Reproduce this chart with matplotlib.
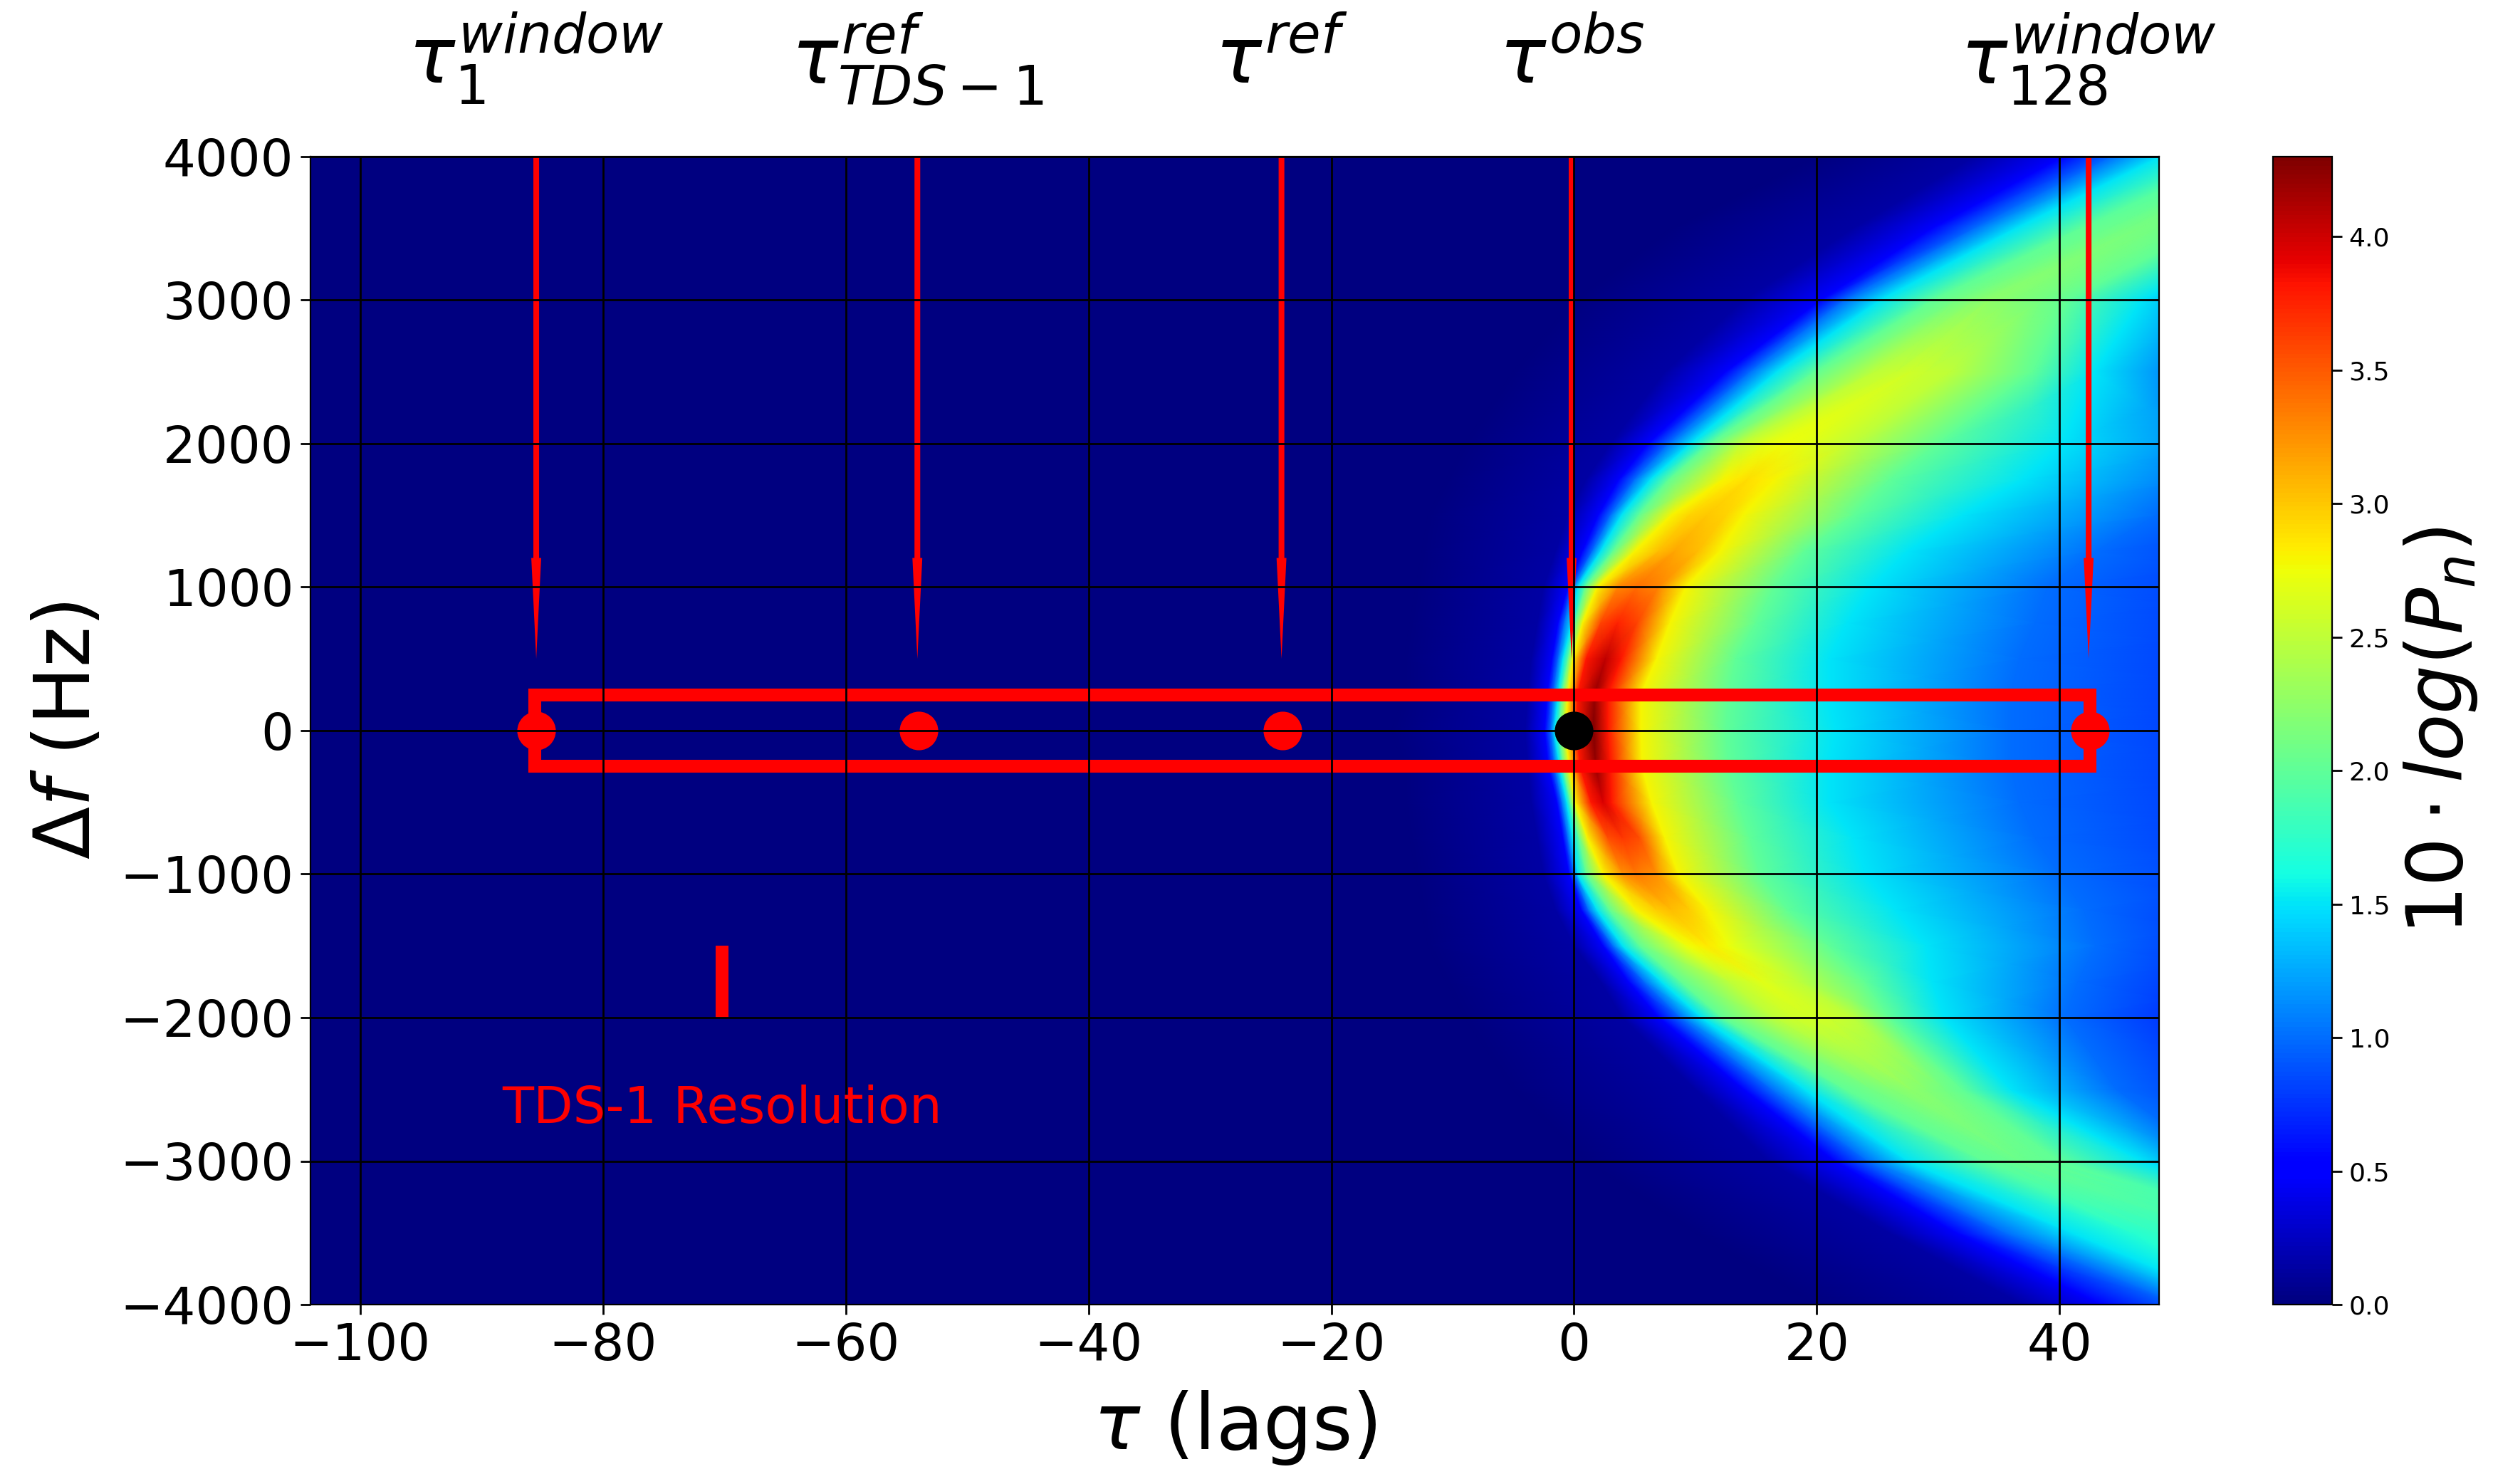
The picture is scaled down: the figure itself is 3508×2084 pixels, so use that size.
import matplotlib
matplotlib.use('Agg')
import matplotlib.pyplot as plt
import numpy as np

# delay-doppler map, one row per doppler value.
# each row is a walk across the parabola band: far left, rising edge, ridge, falling side
df_rows = [4000, 3500, 3000, 2500, 2000, 1750, 1500, 1250, 1000, 750, 500, 250, 0,
           -250, -500, -750, -1000, -1250, -1500, -1750, -2000, -2500, -3000, -3500, -4000]

tau_rows = [
    [20, 33, 40.3, 44.3, 48.3, 54, 56, 57, 58, 60, 62, 64, 68, 75, 85],
    [8, 23, 29.5, 33, 36.4, 41.8, 44, 45.5, 46.5, 48, 50, 52, 58, 65, 80],
    [0, 14, 20.3, 22.3, 25.2, 29.5, 31.5, 33, 34.2, 36, 38.5, 40.7, 46.8, 54.7, 70],
    [-5, 7.5, 12.5, 14.5, 16.7, 19.8, 24.8, 26.5, 27.7, 29, 31, 37.8, 42.9, 51, 65],
    [-9, 3, 6.1, 7.8, 9.6, 11.2, 13.7, 15.8, 17.3, 19, 23, 30, 40.3, 55, 70],
    [-10.5, 1, 3.7, 5, 6.3, 7.8, 12.3, 13.3, 14.3, 15.4, 16.5, 26, 37, 52, 68],
    [-12, -0.5, 2, 3, 3.9, 5.3, 8, 9.5, 11, 12.5, 13.9, 23, 32, 48, 65],
    [-12.5, -1.5, 0.7, 1.5, 2.2, 3.2, 5, 7, 8.3, 10.2, 12, 19, 27.5, 43, 62],
    [-13, -2.5, -0.5, -0.1, 0.3, 0.9, 1.9, 3.6, 5.2, 7, 9.2, 16.5, 24.5, 39, 60],
    [-13.5, -3, -1.3, -0.8, -0.2, 0.1, 0.7, 2.2, 3.6, 5.2, 7.9, 15, 22.5, 38, 60],
    [-14, -3.5, -1.8, -1.3, -0.9, -0.5, -0.1, 1, 2.6, 3.9, 6.8, 13.3, 21, 36.7, 60],
    [-14, -3.8, -2.2, -1.7, -1.3, -1, -0.5, 0.3, 1.7, 2.8, 5.5, 12.7, 21, 36, 60],
    [-15, -4, -2.4, -1.9, -1.6, -1.2, -0.7, 0.2, 1.6, 2.8, 5.5, 12.5, 21.5, 36, 60],
    [-14, -3.8, -2.1, -1.6, -1.2, -0.9, -0.4, 0.5, 1.8, 3, 5.6, 12.7, 21, 36, 60],
    [-14, -3.5, -1.4, -1, -0.6, -0.3, 0.1, 1.4, 2.4, 3.1, 6.4, 13.5, 21, 36.7, 60],
    [-13.5, -3, -0.9, -0.5, -0.1, 0.4, 1.1, 2.8, 4, 5.4, 7.5, 14.5, 23, 38, 60],
    [-13, -2.5, -0.4, 0, 0.3, 1, 2.4, 4, 5.1, 6.8, 8.6, 15.3, 24, 40, 62],
    [-12.5, -1.5, 0.6, 1.2, 1.9, 2.9, 5.1, 6.8, 8, 9.5, 11, 17.6, 26.5, 42, 60],
    [-12, 0, 2.4, 3.2, 4, 5.4, 9.3, 10.2, 11, 11.8, 12.7, 21, 29, 43, 60],
    [-10.5, 2.2, 4.5, 5.8, 7.2, 8.8, 12.8, 14.5, 15.5, 16.5, 18.5, 24, 29.5, 41.5, 58],
    [-9, 4, 7, 8.8, 10.5, 12.2, 16.5, 18, 19.5, 21, 23, 26, 30.5, 40.5, 55],
    [-5, 10, 14, 16.3, 19, 22.3, 24.5, 26.2, 27.7, 29, 30.5, 32, 36, 44.7, 60],
    [1, 16, 21.5, 24.2, 27.5, 33.8, 35, 36, 36.7, 37.5, 38.8, 40, 46.8, 53, 68],
    [10, 26, 31.5, 35.5, 41, 46, 48, 50, 53, 56, 58, 60, 66, 72, 85],
    [20, 37, 43.5, 50, 55, 57, 58, 59, 60, 61, 62, 63, 68, 75, 90],
]

power_rows = [
    [0, .15, .5, 1, 1.5, 1.9, 1.95, 2, 2.05, 2, 1.95, 1.9, 1.5, 1, .6],
    [0, .15, .5, 1, 1.5, 2, 2.05, 2.1, 2.12, 2.1, 2.05, 2, 1.5, 1, .6],
    [0, .15, .5, 1, 1.5, 2, 2.1, 2.2, 2.25, 2.2, 2.1, 2, 1.5, 1, .6],
    [0, .15, .5, 1, 1.5, 2, 2.5, 2.55, 2.58, 2.55, 2.5, 2, 1.5, 1, .6],
    [0, .15, .5, 1, 1.5, 2, 2.5, 2.7, 2.75, 2.7, 2.5, 2, 1.5, 1, .6],
    [0, .15, .5, 1, 1.5, 2, 2.8, 2.85, 2.9, 2.85, 2.8, 2, 1.5, 1, .6],
    [0, .15, .5, 1, 1.5, 2, 2.8, 2.95, 3.0, 2.95, 2.8, 2, 1.5, 1, .6],
    [0, .15, .5, 1, 1.5, 2, 2.8, 3.05, 3.15, 3.05, 2.8, 2, 1.5, 1, .65],
    [0, .15, .5, 1, 1.5, 2, 2.8, 3.3, 3.4, 3.3, 2.8, 2, 1.5, 1, .7],
    [0, .15, .5, 1, 1.5, 2, 2.8, 3.6, 3.75, 3.6, 2.8, 2, 1.5, 1, .7],
    [0, .15, .5, 1, 1.5, 2, 2.8, 3.8, 4.05, 3.8, 2.8, 2, 1.5, 1, .7],
    [0, .15, .5, 1, 1.5, 2, 2.8, 3.8, 4.2, 3.8, 2.8, 2, 1.5, 1, .7],
    [0, .15, .5, 1, 1.5, 2, 2.8, 3.8, 4.3, 3.8, 2.8, 2, 1.5, 1, .7],
    [0, .15, .5, 1, 1.5, 2, 2.8, 3.8, 4.2, 3.8, 2.8, 2, 1.5, 1, .7],
    [0, .15, .5, 1, 1.5, 2, 2.8, 3.8, 3.95, 3.8, 2.8, 2, 1.5, 1, .7],
    [0, .15, .5, 1, 1.5, 2, 2.8, 3.55, 3.65, 3.55, 2.8, 2, 1.5, 1, .7],
    [0, .15, .5, 1, 1.5, 2, 2.8, 3.25, 3.35, 3.25, 2.8, 2, 1.5, 1, .7],
    [0, .15, .5, 1, 1.5, 2, 2.8, 2.98, 3.05, 2.98, 2.8, 2, 1.5, 1, .65],
    [0, .15, .5, 1, 1.5, 2, 2.75, 2.8, 2.85, 2.8, 2.75, 2, 1.5, 1, .6],
    [0, .15, .5, 1, 1.5, 2, 2.5, 2.62, 2.68, 2.62, 2.5, 2, 1.5, 1, .6],
    [0, .15, .5, 1, 1.5, 2, 2.5, 2.57, 2.6, 2.57, 2.5, 2, 1.5, 1, .6],
    [0, .15, .5, 1, 1.5, 2, 2.1, 2.2, 2.25, 2.2, 2.1, 2, 1.5, 1, .6],
    [0, .15, .5, 1, 1.5, 2, 2.03, 2.04, 2.05, 2.04, 2.03, 2, 1.5, 1, .6],
    [0, .15, .5, 1, 1.5, 1.7, 1.75, 1.78, 1.8, 1.78, 1.75, 1.7, 1.4, 1, .6],
    [0, .15, .5, 1, 1.5, 1.6, 1.65, 1.68, 1.7, 1.68, 1.65, 1.6, 1.4, 1, .6],
]

arrow_taus = [-85.5, -54.1, -24.1, -0.2, 42.4]
arrow_labels = [r'$\tau_{1}^{window}$', r'$\tau_{TDS-1}^{ref}$', r'$\tau^{ref}$',
                r'$\tau^{obs}$', r'$\tau_{128}^{window}$']
red_points = [-85.5, -54, -24, 42.5]
obs_point = 0
window_tau = [-85.6, 42.5]
window_df = [-250, 250]
res_tau = -70.2
res_df = [-1500, -2000]


def main():
    fig = plt.figure(figsize=(17.54, 10.42), dpi=200)
    ax = fig.add_axes([436 / 3508, 1 - 1832 / 2084, 2596 / 3508, 1612 / 2084])
    ax.set_facecolor(plt.cm.jet(0.0))

    tau = np.array(tau_rows)
    dfs = np.repeat(np.array(df_rows)[:, None], tau.shape[1], axis=1)
    mesh = ax.pcolormesh(tau, dfs, np.array(power_rows), cmap='jet', vmin=0, vmax=4.3,
                         shading='gouraud', zorder=0.5)

    for t, lab in zip(arrow_taus, arrow_labels):
        ax.annotate('', xy=(t, 500), xytext=(t, 4000), zorder=1,
                    arrowprops=dict(facecolor='red', edgecolor='none', width=2.9,
                                    headwidth=5, headlength=51, shrink=0, zorder=1))
        ax.text(t, 4510, lab, fontsize=39, ha='center', va='baseline')

    ax.plot([window_tau[0], window_tau[1], window_tau[1], window_tau[0], window_tau[0]],
            [window_df[0], window_df[0], window_df[1], window_df[1], window_df[0]],
            color='red', lw=6.5, solid_joinstyle='miter', zorder=1.2)
    ax.plot(red_points, [0] * len(red_points), 'o', color='red', ms=19.5, mew=0, zorder=1.5)
    ax.plot([obs_point], [0], 'o', color='black', ms=19.5, mew=0, zorder=1.5)
    ax.plot([res_tau, res_tau], res_df, color='red', lw=6.5, solid_capstyle='butt', zorder=1.5)
    ax.text(res_tau, -2640, 'TDS-1 Resolution', color='red', fontsize=26, ha='center', va='center')

    ax.set_xlim(-104.1, 48.2)
    ax.set_ylim(-4000, 4000)
    ax.set_xticks(range(-100, 41, 20))
    ax.set_yticks(range(-4000, 4001, 1000))
    ax.grid(True, color='black', lw=1.0, zorder=2)
    ax.set_axisbelow(False)
    ax.tick_params(labelsize=26, length=5, width=1)
    ax.set_xlabel(r'$\tau$ (lags)', fontsize=39, labelpad=9)
    ax.set_ylabel(r'$\Delta f$ (Hz)', fontsize=39, labelpad=7)

    cax = fig.add_axes([3192 / 3508, 1 - 1832 / 2084, 83 / 3508, 1612 / 2084])
    cbar = fig.colorbar(mesh, cax=cax, ticks=np.arange(0, 4.1, 0.5))
    cbar.ax.tick_params(labelsize=13, length=5, width=1)
    cbar.set_label(r'$10 \cdot log(P_n)$', fontsize=39, labelpad=6)

    fig.savefig('out.png', dpi=200)


main()
